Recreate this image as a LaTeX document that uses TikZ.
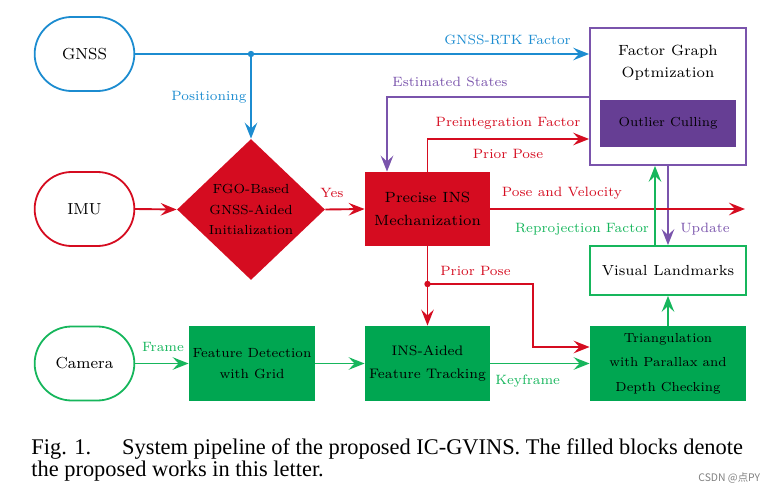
\documentclass[tikz,border=0pt]{standalone}
\usepackage{fontspec}
\usetikzlibrary{arrows.meta,shapes.misc,shapes.geometric,calc}
\newfontfamily\capfont{Liberation Serif}
\newfontfamily\cjkfont{Noto Sans CJK SC}
\newfontfamily\dfont{lmroman7-regular}[Extension=.otf]
\definecolor{cblue}{RGB}{28,140,208}
\definecolor{cred}{RGB}{213,12,32}
\definecolor{cgreenf}{RGB}{0,166,81}
\definecolor{cgreen}{RGB}{22,182,92}
\definecolor{cpurp}{RGB}{122,84,172}
\definecolor{cpurpf}{RGB}{102,62,148}
\tikzset{
  term/.style={draw, line width=0.9pt, rounded rectangle, minimum width=56.5pt, minimum height=37pt, font=\fontsize{8}{10.5}\selectfont},
  blk/.style={rectangle, inner sep=1pt, align=center},
  arr/.style={line width=0.95pt, -{Stealth[length=8pt,width=6.3pt,inset=3pt]}},
  lbl/.style={font=\dfont\fontsize{6.75}{9}\selectfont, inner sep=0pt},
  dot/.style={circle, fill, inner sep=0pt, minimum size=3.2pt}
}
\begin{document}
\begin{tikzpicture}[x=0.5pt,y=-0.5pt]
\path[use as bounding box] (0,0) rectangle (778,493);
% terminals
\node[term, cblue] (gnss) at (84.5,54) {\color{black}GNSS};
\node[term, cred] (imu) at (84.5,209) {\color{black}IMU};
\node[term, cgreen] (camera) at (84.5,363.5) {\color{black}Camera};
% diamond
\node[diamond, fill=cred, minimum width=74pt, minimum height=70.5pt, inner sep=0pt] (init) at (251,209.5) {};
\node[blk, font=\dfont\fontsize{6.6}{10.3}\selectfont] (inittxt) at (251,209.5) {FGO-Based\\GNSS-Aided\\Initialization};
% boxes
\node[blk, fill=cred, minimum width=62.5pt, minimum height=37pt, font=\dfont\fontsize{7.4}{11.5}\selectfont] (ins) at (427.5,209) {Precise INS\\Mechanization};
\node[draw=cpurp, line width=0.9pt, minimum width=78pt, minimum height=68.5pt] (fgo) at (668,96.5) {};
\node[blk, font=\dfont\fontsize{7.4}{11.2}\selectfont] (fgotxt) at (668,63) {Factor Graph\\Optmization};
\node[blk, fill=cpurpf, minimum width=68pt, minimum height=23.5pt, font=\dfont\fontsize{6.55}{9}\selectfont] (outl) at (668,123.5) {Outlier Culling};
\node[blk, draw=cgreen, line width=0.9pt, minimum width=78pt, minimum height=24.5pt, font=\dfont\fontsize{7.3}{9}\selectfont] (vl) at (668,270.5) {Visual Landmarks};
\node[blk, fill=cgreenf, minimum width=78pt, minimum height=37.5pt, font=\dfont\fontsize{6.55}{12.2}\selectfont] (tri) at (668,363.5) {Triangulation\\with Parallax and\\Depth Checking};
\node[blk, fill=cgreenf, minimum width=62.5pt, minimum height=37.5pt, font=\dfont\fontsize{6.9}{11.5}\selectfont] (insa) at (427.5,363.5) {INS-Aided\\Feature Tracking};
\node[blk, fill=cgreenf, minimum width=63pt, minimum height=37.5pt, font=\dfont\fontsize{6.65}{10.5}\selectfont] (fd) at (252,363.5) {Feature Detection\\with Grid};
% coordinates
\coordinate (j1) at (251,54);
\coordinate (es) at (387,97);
\coordinate (pf) at (427.5,139);
\coordinate (pv) at (745,209);
\coordinate (d2) at (427.5,284);
\coordinate (b2) at (533,284);
\coordinate (b3) at (533,347);
\coordinate (rp) at (655,0);
% blue
\draw[arr, cblue] (gnss.east) -- (gnss.east -| fgo.west);
\draw[arr, cblue] (j1) -- (init.north);
\node[dot, cblue] at (j1) {};
\node[lbl, cblue] at (507.5,40) {GNSS-RTK Factor};
\node[lbl, cblue] at (209,97) {Positioning};
% purple
\draw[arr, cpurp] (es -| fgo.west) -- (es) -- (es |- ins.north);
\node[lbl, cpurp] at (450,82) {Estimated States};
\draw[arr, cpurp] (fgo.south) -- (fgo.south |- vl.north);
\node[lbl, cpurp] at (705,229) {Update};
% red
\draw[arr, cred] (ins.north) -- (pf) -- (pf -| fgo.west);
\node[lbl, cred] at (508,123) {Preintegration Factor};
\node[lbl, cred] at (508,154) {Prior Pose};
\draw[arr, cred] (ins.east) -- (pv);
\node[lbl, cred] at (562,193) {Pose and Velocity};
\draw[arr, cred] (imu.east) -- (init.west);
\draw[arr, cred] (init.east) -- (ins.west);
\node[lbl, cred] at (332,193) {Yes};
\draw[arr, cred] (ins.south) -- (insa.north);
\draw[arr, cred] (d2) -- (b2) -- (b3) -- (b3 -| tri.west);
\node[dot, cred] at (d2) {};
\node[lbl, cred] at (475.5,271) {Prior Pose};
% green
\draw[arr, cgreen] (vl.north -| rp) -- (fgo.south -| rp);
\node[lbl, cgreen] at (582,229) {Reprojection Factor};
\draw[arr, cgreen] (tri.north) -- (vl.south);
\draw[arr, cgreen] (insa.east) -- (tri.west);
\node[lbl, cgreen] at (527.7,381) {Keyframe};
\draw[arr, cgreen] (camera.east) -- (fd.west);
\node[lbl, cgreen] at (163,347) {Frame};
\draw[arr, cgreen] (fd.east) -- (insa.west);
% caption
\node[anchor=north west, align=left, inner sep=0pt, font=\capfont\fontsize{11.2}{11.2}\selectfont] (cap) at (31,438) {Fig. 1.\hspace{15.5pt}System pipeline of the proposed IC-GVINS. The filled blocks denote\\the proposed works in this letter.};
\node[anchor=west, inner sep=0pt, text=gray, font=\cjkfont\fontsize{5.2}{6}\selectfont] (wm) at (698,478) {CSDN @点PY};
\end{tikzpicture}
\end{document}
